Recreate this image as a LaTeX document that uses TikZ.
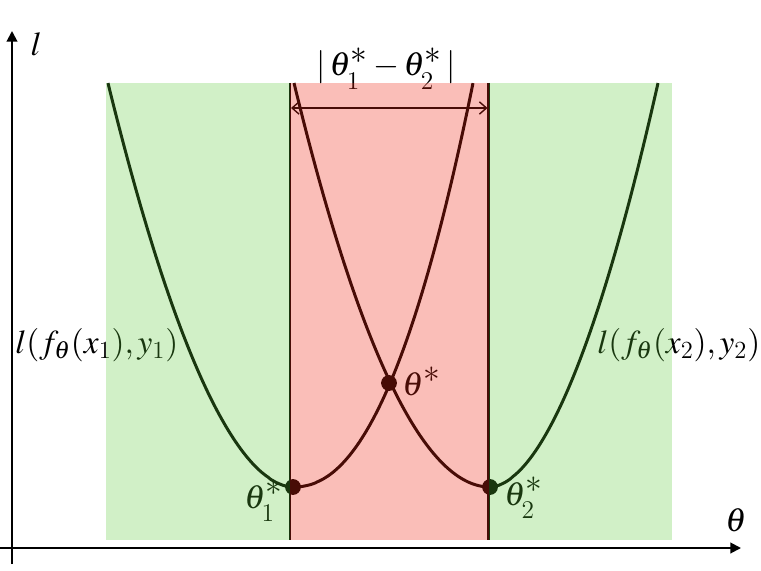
\documentclass[tikz,border=0pt]{standalone}
\usepackage{mathptmx}
\usetikzlibrary{arrows.meta}
\definecolor{greenov}{RGB}{90,200,55}
\definecolor{pinkov}{RGB}{240,40,20}
\newcommand\bigst{{\textstyle *}}
\newcommand\subn[1]{\mbox{\fontsize{14}{14}\selectfont #1}}
\newcommand\subl[1]{\raisebox{-3pt}{\fontsize{14.5}{14}\selectfont #1}}
\begin{document}
\begin{tikzpicture}[x=0.02cm,y=-0.02cm,
  axis/.style={line width=1.1pt,-{Triangle[length=6pt,width=6pt]}},
  curve/.style={line width=1.7pt},
  bound/.style={line width=1.3pt},
  dimarrow/.style={line width=0.8pt,{Straight Barb[length=4pt,width=7pt]}-{Straight Barb[length=4pt,width=7pt]}},
  dot/.style={circle,fill=black,inner sep=0pt,minimum size=9pt},
  lbl/.style={font=\fontsize{19}{22}\selectfont,inner sep=0pt},
  greenbox/.style={fill=greenov,fill opacity=0.28},
  pinkbox/.style={fill=pinkov,fill opacity=0.30}]
\useasboundingbox (0,0) rectangle (761,571);
% axes
\coordinate (yb) at (12,564);
\coordinate (yt) at (12,31);
\coordinate (xl) at (0,548);
\coordinate (xr) at (741,548);
\draw[axis] (yb) -- (yt);
\draw[axis] (xl) -- (xr);
\node[lbl] (ylab) at (36,44) {$l$};
\node[lbl] (xlab) at (736,520) {$\theta$};
% boundary lines
\coordinate (b1t) at (290,83);
\coordinate (b1b) at (290,540);
\coordinate (b2t) at (488.5,83);
\coordinate (b2b) at (488.5,540);
\draw[bound] (b1t) -- (b1b);
\draw[bound] (b2t) -- (b2b);
% curves
\draw[curve] plot[domain=0.01:185,samples=90,variable=\t] ({293-\t},{487-404*(\t/185)^1.87});
\draw[curve] plot[domain=0.01:180,samples=90,variable=\t] ({293+\t},{487-404*(\t/180)^2.2});
\draw[curve] plot[domain=0.01:196,samples=90,variable=\t] ({490-\t},{487-404*(\t/196)^2});
\draw[curve] plot[domain=0.01:168,samples=90,variable=\t] ({490+\t},{487-404*(\t/168)^1.85});
% points
\node[dot] (m1) at (293,487) {};
\node[dot] (m2) at (490,487) {};
\node[dot] (mx) at (389,383) {};
% dimension arrow
\coordinate (d1) at (291,108);
\coordinate (d2) at (487.5,108);
\draw[dimarrow] (d1) -- (d2);
% labels
\node[lbl,anchor=base] (dist) at (386,76) {$|\,\theta^\bigst_{\subl{1}}-\theta^\bigst_{\subl{2}}\,|$};
\node[lbl,anchor=base west] (tx) at (402,395) {$\theta^\bigst$};
\node[lbl,anchor=base west] (t1) at (244,508) {$\theta^\bigst_{\subl{1}}$};
\node[lbl,anchor=base west] (t2) at (504,505) {$\theta^\bigst_{\subl{2}}$};
\node[lbl,anchor=base west] (L1) at (15,353) {$l(f_\theta(x_{\subn{1}}),y_{\subn{1}})$};
\node[lbl,anchor=base west] (L2) at (597,353) {$l(f_\theta(x_{\subn{2}}),y_{\subn{2}})$};
% overlays
\fill[greenbox] (106,83) rectangle (290,540);
\fill[pinkbox] (290,83) rectangle (488.5,540);
\fill[greenbox] (488.5,83) rectangle (672,540);
\end{tikzpicture}
\end{document}
